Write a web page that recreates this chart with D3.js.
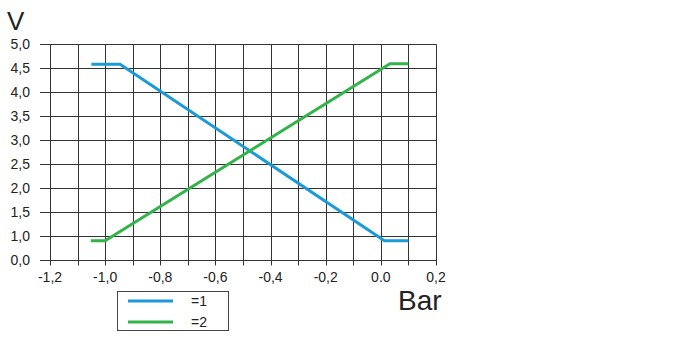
<!DOCTYPE html>
<html>
<head>
<meta charset="utf-8">
<script src="https://cdn.jsdelivr.net/npm/d3@7"></script>
<style>
html,body{margin:0;padding:0;background:#fff;}
svg{display:block;}
text{font-family:"Liberation Sans",Arial,Helvetica,sans-serif;fill:#222;}
</style>
</head>
<body>
<svg id="chart" width="674" height="337"></svg>
<script>
// ---- data ----
const seriesNames = ["=1", "=2"];
const series1X = [-1.05, -0.946, 0.013, 0.10];
const series1Y = [4.58, 4.58, 0.90, 0.90];
const series2X = [-1.052, -1.0, 0.033, 0.10];
const series2Y = [0.90, 0.90, 4.59, 4.59];
const xTickValues = [-1.2, -1.0, -0.8, -0.6, -0.4, -0.2, 0.0, 0.2];
const xTickLabels = ["-1,2", "-1,0", "-0,8", "-0,6", "-0,4", "-0,2", "0.0", "0,2"];
const xGridValues = [-1.2, -1.1, -1.0, -0.9, -0.8, -0.7, -0.6, -0.5, -0.4, -0.3, -0.2, -0.1, 0.0, 0.1, 0.2];
// broken axis: bottom label "0,0" sits one step below 1,0
const yTickValues = [0.5, 1.0, 1.5, 2.0, 2.5, 3.0, 3.5, 4.0, 4.5, 5.0];
const yTickLabels = ["0,0", "1,0", "1,5", "2,0", "2,5", "3,0", "3,5", "4,0", "4,5", "5,0"];
const colors = ["#1a9bd7", "#33b44a"];

const svg = d3.select("#chart");
const x = d3.scaleLinear().domain([-1.2, 0.2]).range([50, 436]);
const y = d3.scaleLinear().domain([0.5, 5.0]).range([260, 44]);
const px = v => Math.round(x(v)) + 0.5;
const py = v => Math.round(y(v)) + 0.5;

const grid = svg.append("g").attr("stroke", "#333").attr("stroke-width", 1);
grid.selectAll("line.h").data(yTickValues).join("line")
  .attr("x1", 40).attr("x2", px(0.2))
  .attr("y1", d => py(d)).attr("y2", d => py(d));
grid.selectAll("line.v").data(xGridValues).join("line")
  .attr("x1", d => px(d)).attr("x2", d => px(d))
  .attr("y1", py(5.0)).attr("y2", py(0.5) + 5);

svg.append("g").selectAll("text").data(yTickValues).join("text")
  .attr("x", 30).attr("y", d => y(d) + 5)
  .attr("text-anchor", "end").attr("font-size", 14)
  .text((d, i) => yTickLabels[i]);
svg.append("g").selectAll("text").data(xTickValues).join("text")
  .attr("x", d => x(d)).attr("y", 282)
  .attr("text-anchor", "middle").attr("font-size", 14)
  .text((d, i) => xTickLabels[i]);

svg.append("text").attr("x", 7).attr("y", 30).attr("font-size", 26).text("V");
svg.append("text").attr("x", 398).attr("y", 310).attr("font-size", 28).text("Bar");

const line = d3.line().x(d => x(d[0])).y(d => y(d[1]));
const allSeries = [d3.zip(series1X, series1Y), d3.zip(series2X, series2Y)];
svg.append("g").selectAll("path").data(allSeries).join("path")
  .attr("d", line).attr("fill", "none")
  .attr("stroke", (d, i) => colors[i]).attr("stroke-width", 3)
  .attr("stroke-linejoin", "miter");

const lg = svg.append("g");
lg.append("rect").attr("x", 117.5).attr("y", 291.5).attr("width", 111).attr("height", 39)
  .attr("fill", "#fff").attr("stroke", "#444").attr("stroke-width", 1);
seriesNames.forEach((name, i) => {
  const yy = 301 + i * 21;
  lg.append("line").attr("x1", 128).attr("x2", 173).attr("y1", yy).attr("y2", yy)
    .attr("stroke", colors[i]).attr("stroke-width", 3);
  lg.append("text").attr("x", 191).attr("y", yy + 5).attr("font-size", 14).text(name);
});
</script>
</body>
</html>
